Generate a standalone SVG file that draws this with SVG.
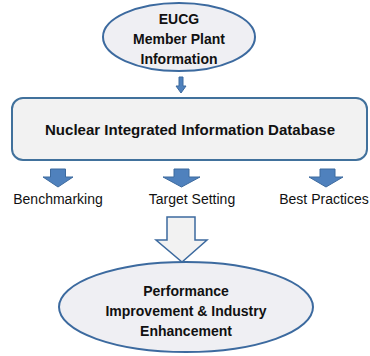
<svg xmlns="http://www.w3.org/2000/svg" width="370" height="356" viewBox="0 0 370 356">
<style>
.node{fill:#efeff3;stroke:#3c6a9f;stroke-width:2}
.box{fill:#f2f2f2;stroke:#41719c;stroke-width:2}
.b{font-family:"Liberation Sans",Arial,sans-serif;font-weight:bold;font-size:14px;fill:#111;text-anchor:middle}
.l{font-family:"Liberation Sans",Arial,sans-serif;font-size:14px;fill:#111;text-anchor:middle}
.ba{fill:#4f81bd;stroke:#3d6a9e;stroke-width:1}
.ha{fill:#f2f2f2;stroke:#3c6a9f;stroke-width:1.5}
</style>
<rect width="370" height="356" fill="#fff"/>
<g id="eucg">
<ellipse class="node" cx="179" cy="37" rx="76" ry="34"/>
<text class="b" x="179" y="24">EUCG</text>
<text class="b" x="179" y="44">Member Plant</text>
<text class="b" x="179" y="64">Information</text>
</g>
<g id="database">
<rect class="box" x="12" y="98" width="355" height="62" rx="11"/>
<text class="b" x="190" y="135" font-size="15" textLength="290" lengthAdjust="spacingAndGlyphs">Nuclear Integrated Information Database</text>
</g>
<g id="benchmarking"><text class="l" x="58" y="204">Benchmarking</text></g>
<g id="target"><text class="l" x="192" y="204">Target Setting</text></g>
<g id="best"><text class="l" x="324" y="204" font-size="13">Best Practices</text></g>
<g id="performance">
<ellipse class="node" cx="186" cy="307" rx="127" ry="45"/>
<text class="b" x="186" y="296">Performance</text>
<text class="b" x="186" y="316">Improvement &amp; Industry</text>
<text class="b" x="186" y="336">Enhancement</text>
</g>
<g id="connectors">
<path class="ba" d="M179,77 H183 V86 H186 L181,93 L176,86 H179 Z"/>
<path class="ba" d="M50.5,169 H65.5 V177 H73 L58,187 L43,177 H50.5 Z"/>
<path class="ba" d="M174,169 H189 V177 H200 L181.5,187 L163,177 H174 Z"/>
<path class="ba" d="M320,169 H335 V177 H343 L326,187 L309,177 H320 Z"/>
<path class="ha" d="M167,217 H195 V240 H207 L182,262 L156,240 H167 Z"/>
</g>
</svg>
